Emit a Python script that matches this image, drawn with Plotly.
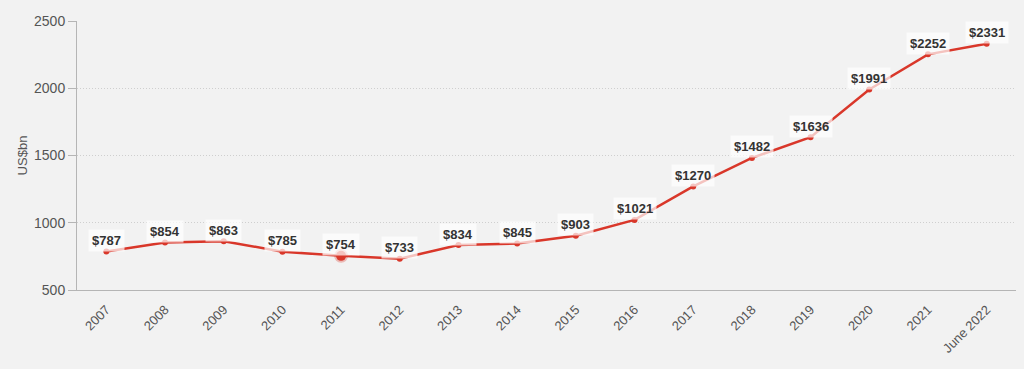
import plotly.graph_objects as go

categories = ["2007", "2008", "2009", "2010", "2011", "2012", "2013", "2014",
              "2015", "2016", "2017", "2018", "2019", "2020", "2021", "June 2022"]
values = [787, 854, 863, 785, 754, 733, 834, 845, 903, 1021, 1270, 1482, 1636, 1991, 2252, 2331]
highlight_index = 4

RED = "#d9372a"
FONT = "Liberation Sans, Arial, Helvetica, sans-serif"

fig = go.Figure()
fig.add_trace(go.Scatter(
    x=categories, y=values, mode="lines+markers",
    line=dict(color=RED, width=2.5),
    marker=dict(color=RED, size=6),
    hoverinfo="skip", showlegend=False,
))
fig.add_trace(go.Scatter(
    x=[categories[highlight_index]], y=[values[highlight_index]], mode="markers",
    marker=dict(color=RED, size=10, line=dict(color="rgba(217,55,42,0.3)", width=4)),
    hoverinfo="skip", showlegend=False,
))

for i, v in enumerate(values):
    fig.add_annotation(
        x=i, y=v, text=f"<b>&#36;{v}</b>", showarrow=False, yshift=11,
        font=dict(family=FONT, size=13, color="#333333"),
        bgcolor="rgba(255,255,255,0.7)", borderpad=3,
    )

fig.update_layout(
    width=1024, height=369,
    margin=dict(l=77, r=8, t=21, b=79),
    paper_bgcolor="#f2f2f2", plot_bgcolor="#f2f2f2",
    font=dict(family=FONT, size=13, color="#555555"),
)
fig.update_xaxes(
    type="category", range=[-0.5, 15.5], tickangle=-45,
    showline=True, linecolor="#b5b5b5", linewidth=1,
    showgrid=False, ticks="outside", ticklen=6, tickcolor="rgba(0,0,0,0)",
    tickfont=dict(size=13, color="#555555"),
)
fig.update_yaxes(
    range=[500, 2500], tickvals=[500, 1000, 1500, 2000, 2500],
    showline=True, linecolor="#b5b5b5", linewidth=1,
    ticks="outside", ticklen=8, tickcolor="#b5b5b5",
    showgrid=True, gridcolor="#cfcfcf", griddash="1px,2px", gridwidth=1,
    zeroline=False, title=dict(text="US&#36;bn", font=dict(size=13, color="#555555"), standoff=3),
    tickfont=dict(size=14, color="#555555"),
)

fig.write_html("out.html", config={"displayModeBar": False},
               post_script="document.body.style.margin='0';document.body.style.background='#f2f2f2';")
